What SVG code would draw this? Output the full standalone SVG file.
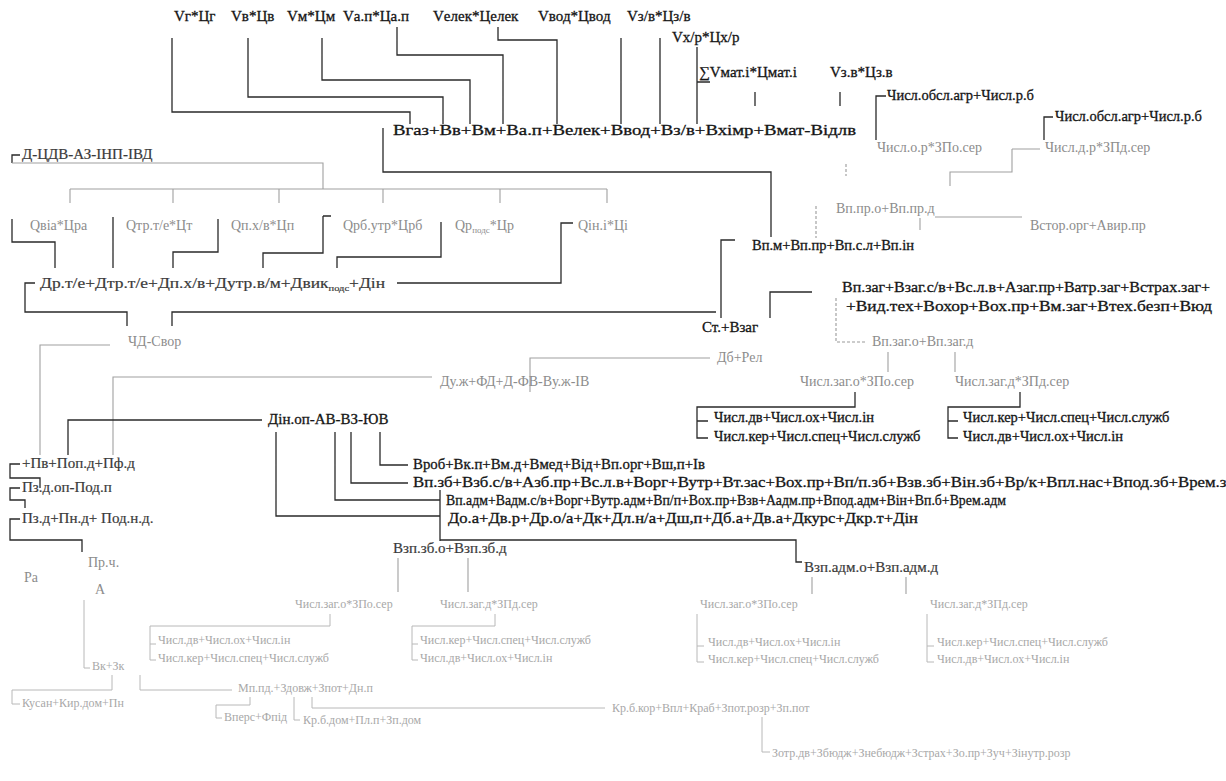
<svg xmlns="http://www.w3.org/2000/svg" width="1226" height="781" viewBox="0 0 1226 781">
<style>
text{font-family:"Liberation Serif","Times New Roman",serif;font-size:15px;fill:#151515;stroke:#151515;stroke-width:0.3}
.s{font-size:14.5px}
.g{fill:#8c8c8c;stroke:none;font-size:14px}
.lg{fill:#a8a8a8;stroke:none;font-size:12px}
.d{fill:#3a3a3a;stroke:#3a3a3a;stroke-width:0.2}
.k{stroke:#2a2a2a;stroke-width:1.3;fill:none}
.gl{stroke:#a0a0a0;stroke-width:1.1;fill:none}
.ll{stroke:#b8b8b8;stroke-width:1;fill:none}
.ds{stroke:#9a9a9a;stroke-width:1.1;fill:none;stroke-dasharray:3 2}
</style>
<rect width="1226" height="781" fill="#fff"/>
<g id="connectors">
<path class="k" d="M172,38V112H410V124M248,38V97H443V124M322,38V80H470V124M397,27V55H503V124M498,27V40H557V124M621,38V124M660,38V124M697,47V124M697,82H710M755,92V106M840,92V106"/>
<path class="k" d="M886,96H876V140M1053,117H1044V140"/>
<path class="gl" d="M1012,149H1040M1012,149V172H950V186M920,218V230M935,217H1022"/>
<path class="ds" d="M846,164V176M816,206V238M836,298V342H866"/>
<path class="k" d="M383,128V172H771V237M735,240H721V318M812,292H770V318"/>
<path class="gl" d="M888,352V372M955,352V372"/>
<path class="k" d="M855,392V407H697V438H708M697,421H708M1020,392V407H948V438H958M948,421H958"/>
<path class="k" d="M20,155H12V163"/>
<path class="gl" d="M12,163H323V189M70,189H607M70,189V203M173,189V203M279,189V203M383,189V203M500,189V203M607,189V203"/>
<path class="k" d="M12,219V242H55V268M113,217V268M218,219V252H173V268M323,216H331M323,216V253H263V268M441,222V257H337V268M573,223H561V283H397"/>
<path class="k" d="M35,283H25V312H127V326M172,326V312H716"/>
<path class="gl" d="M110,345H40V455M432,377H113V455M530,392V358H710"/>
<path class="k" d="M68,455V420H262M380,432V465H408M351,432V483H408M335,432V500H440M276,432V516H440M440,490V541M440,540H796V562H802"/>
<path class="k" d="M20,464H10V478H40V488M20,488H10V500H25V508M20,519H10V540H82V552"/>
<path class="gl" d="M398,558V592M468,558V592M812,577V594M906,577V594"/>
<path class="ll" d="M330,614V626H150V660H156M150,644H156M495,614V626H412V660H418M412,644H418M697,614V662H704M697,646H704M927,614V662H934M927,646H934"/>
<path class="ll" d="M84,600V668H90M112,675V690H12V704H20M140,675V690H232M250,697V705H216V718H222M294,697V720H300M312,697V708H605M762,717V752H770"/>
</g>
<g id="n-vg"><text x="174" y="21">Vг*Цг</text></g>
<g id="n-vv"><text x="231" y="21">Vв*Цв</text></g>
<g id="n-vm"><text x="287" y="21">Vм*Цм</text></g>
<g id="n-vap"><text x="343" y="21">Vа.п*Ца.п</text></g>
<g id="n-velek"><text x="433" y="21">Vелек*Целек</text></g>
<g id="n-vvod"><text x="538" y="21">Vвод*Цвод</text></g>
<g id="n-vzv"><text x="627" y="21">Vз/в*Цз/в</text></g>
<g id="n-vxr"><text x="672" y="42">Vх/р*Цх/р</text></g>
<g id="n-vmat"><text x="699" y="77">∑Vмат.і*Цмат.і</text></g>
<g id="n-vzvv"><text x="830" y="77">Vз.в*Цз.в</text></g>
<g id="n-b"><text x="393" y="135" textLength="463" lengthAdjust="spacingAndGlyphs">Вгаз+Вв+Вм+Ва.п+Велек+Ввод+Вз/в+Вхімр+Вмат-Відлв</text></g>
<g id="n-obsl1"><text class="s" x="887" y="100">Числ.обсл.агр+Числ.р.б</text></g>
<g id="n-obsl2"><text class="s" x="1055" y="121">Числ.обсл.агр+Числ.р.б</text></g>
<g id="n-chor"><text class="g" x="877" y="152">Числ.о.р*ЗПо.сер</text></g>
<g id="n-chdr"><text class="g" x="1045" y="152">Числ.д.р*ЗПд.сер</text></g>
<g id="n-vppr"><text class="g" x="836" y="213">Вп.пр.о+Вп.пр.д</text></g>
<g id="n-vstor"><text class="g" x="1030" y="230">Встор.орг+Авир.пр</text></g>
<g id="n-vpm"><text class="s" x="752" y="250">Вп.м+Вп.пр+Вп.с.л+Вп.ін</text></g>
<g id="n-vpzag"><text x="842" y="292" textLength="368" lengthAdjust="spacingAndGlyphs">Вп.заг+Взаг.с/в+Вс.л.в+Азаг.пр+Ватр.заг+Встрах.заг+</text><text x="846" y="311" textLength="366" lengthAdjust="spacingAndGlyphs">+Вид.тех+Вохор+Вох.пр+Вм.заг+Втех.безп+Вюд</text></g>
<g id="n-st"><text x="702" y="332">Ст.+Взаг</text></g>
<g id="n-vpzago"><text class="g" x="872" y="346">Вп.заг.о+Вп.заг.д</text></g>
<g id="n-chzo1"><text class="g" x="800" y="386">Числ.заг.о*ЗПо.сер</text></g>
<g id="n-chzd1"><text class="g" x="955" y="386">Числ.заг.д*ЗПд.сер</text></g>
<g id="n-ch1"><text class="s" x="714" y="422">Числ.дв+Числ.ох+Числ.ін</text><text class="s" x="714" y="441">Числ.кер+Числ.спец+Числ.служб</text></g>
<g id="n-ch2"><text class="s" x="963" y="422">Числ.кер+Числ.спец+Числ.служб</text><text class="s" x="963" y="441">Числ.дв+Числ.ох+Числ.ін</text></g>
<g id="n-dcdv"><text class="d" x="22" y="159">Д-ЦДВ-АЗ-ІНП-ІВД</text></g>
<g id="n-q1"><text class="g" x="30" y="230">Qвіа*Цра</text></g>
<g id="n-q2"><text class="g" x="126" y="230">Qтр.т/е*Цт</text></g>
<g id="n-q3"><text class="g" x="231" y="230">Qп.х/в*Цп</text></g>
<g id="n-q4"><text class="g" x="343" y="230">Qрб.утр*Црб</text></g>
<g id="n-q5"><text class="g" x="455" y="230">Qр<tspan font-size="9" dy="3">подс</tspan><tspan dy="-3">*Цр</tspan></text></g>
<g id="n-q6"><text class="g" x="578" y="230">Qін.і*Ці</text></g>
<g id="n-d"><text class="d" x="40" y="288" textLength="345" lengthAdjust="spacingAndGlyphs">Др.т/е+Дтр.т/е+Дп.х/в+Дутр.в/м+Двик<tspan font-size="9" dy="3">подс</tspan><tspan dy="-3">+Дін</tspan></text></g>
<g id="n-chd"><text class="g" x="128" y="346">ЧД-Свор</text></g>
<g id="n-duzh"><text class="g" x="440" y="386">Ду.ж+ФД+Д-ФВ-Ву.ж-ІВ</text></g>
<g id="n-db"><text class="g" x="717" y="362">Дб+Рел</text></g>
<g id="n-dinop"><text x="268" y="424" font-size="16">Дін.оп-АВ-ВЗ-ЮВ</text></g>
<g id="n-vrob"><text x="413" y="469" textLength="292" lengthAdjust="spacingAndGlyphs">Вроб+Вк.п+Вм.д+Вмед+Від+Вп.орг+Вш,п+Ів</text></g>
<g id="n-vpzb"><text x="413" y="487" textLength="822" lengthAdjust="spacingAndGlyphs">Вп.зб+Взб.с/в+Азб.пр+Вс.л.в+Ворг+Вутр+Вт.зас+Вох.пр+Вп/п.зб+Взв.зб+Він.зб+Вр/к+Впл.нас+Впод.зб+Врем.зб</text></g>
<g id="n-vpadm"><text x="446" y="505" font-size="13.5" textLength="560" lengthAdjust="spacingAndGlyphs">Вп.адм+Вадм.с/в+Ворг+Вутр.адм+Вп/п+Вох.пр+Взв+Аадм.пр+Впод.адм+Він+Вп.б+Врем.адм</text></g>
<g id="n-doa"><text x="448" y="523" textLength="470" lengthAdjust="spacingAndGlyphs">До.а+Дв.р+Др.о/а+Дк+Дл.н/а+Дш,п+Дб.а+Дв.а+Дкурс+Дкр.т+Дін</text></g>
<g id="n-vzpzb"><text class="d" x="393" y="553" font-size="14">Взп.зб.о+Взп.зб.д</text></g>
<g id="n-vzpadm"><text class="d" x="804" y="572" font-size="13.5">Взп.адм.о+Взп.адм.д</text></g>
<g id="n-pv"><text class="d" x="22" y="468">+Пв+Поп.д+Пф.д</text></g>
<g id="n-pzdop"><text class="d" x="22" y="492">Пз.д.оп-Под.п</text></g>
<g id="n-pzd"><text class="d" x="22" y="523">Пз.д+Пн.д+ Под.н.д.</text></g>
<g id="n-ra"><text class="g" x="24" y="582">Ра</text></g>
<g id="n-prch"><text class="g" x="88" y="567">Пр.ч.</text></g>
<g id="n-a"><text class="g" x="95" y="594">А</text></g>
<g id="n-chzo2"><text class="lg" x="295" y="608" font-size="13">Числ.заг.о*ЗПо.сер</text></g>
<g id="n-chzd2"><text class="lg" x="440" y="608" font-size="13">Числ.заг.д*ЗПд.сер</text></g>
<g id="n-ch3"><text class="lg" x="158" y="644">Числ.дв+Числ.ох+Числ.ін</text><text class="lg" x="158" y="662">Числ.кер+Числ.спец+Числ.служб</text></g>
<g id="n-ch4"><text class="lg" x="420" y="644">Числ.кер+Числ.спец+Числ.служб</text><text class="lg" x="420" y="662">Числ.дв+Числ.ох+Числ.ін</text></g>
<g id="n-chzo3"><text class="lg" x="700" y="608" font-size="13">Числ.заг.о*ЗПо.сер</text></g>
<g id="n-chzd3"><text class="lg" x="930" y="608" font-size="13">Числ.заг.д*ЗПд.сер</text></g>
<g id="n-ch5"><text class="lg" x="708" y="646">Числ.дв+Числ.ох+Числ.ін</text><text class="lg" x="708" y="663">Числ.кер+Числ.спец+Числ.служб</text></g>
<g id="n-ch6"><text class="lg" x="937" y="646">Числ.кер+Числ.спец+Числ.служб</text><text class="lg" x="937" y="663">Числ.дв+Числ.ох+Числ.ін</text></g>
<g id="n-vkzk"><text class="lg" x="92" y="670">Вк+Зк</text></g>
<g id="n-kusan"><text class="lg" x="22" y="707" font-size="13">Кусан+Кир.дом+Пн</text></g>
<g id="n-mp"><text class="lg" x="238" y="692">Мп.пд.+Здовж+Зпот+Дн.п</text></g>
<g id="n-vpers"><text class="lg" x="224" y="721">Вперс+Фпід</text></g>
<g id="n-krbdom"><text class="lg" x="303" y="724">Кр.б.дом+Пл.п+Зп.дом</text></g>
<g id="n-krbkor"><text class="lg" x="612" y="712" font-size="13">Кр.б.кор+Впл+Краб+Зпот.розр+Зп.пот</text></g>
<g id="n-zotr"><text class="lg" x="772" y="757" font-size="13">Зотр.дв+Збюдж+Знебюдж+Зстрах+Зо.пр+Зуч+Зінутр.розр</text></g>
</svg>
